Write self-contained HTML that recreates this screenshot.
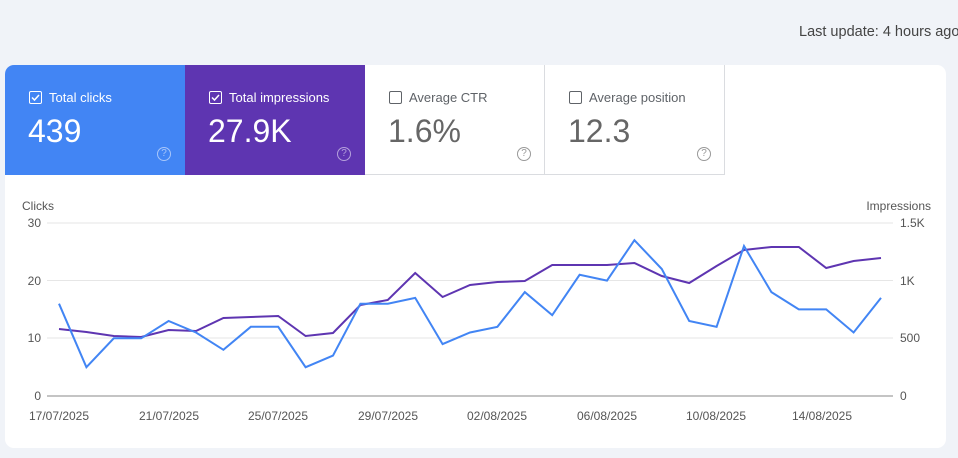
<!DOCTYPE html>
<html><head><meta charset="utf-8"><style>
body{margin:0;width:958px;height:458px;background:#f0f3f8;font-family:"Liberation Sans",sans-serif;position:relative;overflow:hidden}
.upd{position:absolute;left:799px;top:24px;font-size:14.5px;color:#444;white-space:nowrap}
.card{position:absolute;left:5px;top:65px;width:941px;height:383px;background:#fff;border-radius:9px;overflow:hidden}
.tab{position:absolute;top:0;height:110px;width:180px;box-sizing:border-box}
.lab{position:absolute;left:24px;top:25px;font-size:13px;white-space:nowrap}
.cb{display:inline-block;width:11px;height:11px;border:1.5px solid;border-radius:2px;vertical-align:-2px;margin-right:7px;position:relative}
.val{position:absolute;left:23px;top:48px;font-size:32px}
.q{position:absolute;left:152px;top:82px;width:12px;height:12px;border:1.5px solid;border-radius:50%;font-size:10px;text-align:center;line-height:12px}
</style></head><body>
<div class="upd">Last update: 4 hours ago</div>
<div class="card">
<div class="tab" style="left:0;background:#4285f4;color:#fff"><div class="lab"><span class="cb" style="border-color:#fff"><svg width="11" height="11" style="position:absolute;left:0;top:0"><path d="M2 5.5l2.5 2.5L9 3" stroke="#fff" stroke-width="1.5" fill="none"/></svg></span>Total clicks</div><div class="val">439</div><div class="q" style="border-color:#a8c6fa;color:#a8c6fa">?</div></div>
<div class="tab" style="left:180px;background:#5e35b1;color:#fff"><div class="lab"><span class="cb" style="border-color:#fff"><svg width="11" height="11" style="position:absolute;left:0;top:0"><path d="M2 5.5l2.5 2.5L9 3" stroke="#fff" stroke-width="1.5" fill="none"/></svg></span>Total impressions</div><div class="val">27.9K</div><div class="q" style="border-color:#b5a1dc;color:#b5a1dc">?</div></div>
<div class="tab" style="left:360px;border-bottom:1px solid #dadce0;border-right:1px solid #dadce0;color:#5f6368"><div class="lab" style="color:#5f6368"><span class="cb" style="border-color:#5f6368;border-width:1px"></span>Average CTR</div><div class="val" style="color:#666">1.6%</div><div class="q" style="border-color:#999;color:#999">?</div></div>
<div class="tab" style="left:540px;border-bottom:1px solid #dadce0;border-right:1px solid #dadce0;color:#5f6368"><div class="lab" style="color:#5f6368"><span class="cb" style="border-color:#5f6368;border-width:1px"></span>Average position</div><div class="val" style="color:#666">12.3</div><div class="q" style="border-color:#999;color:#999">?</div></div>
</div>
<svg width="958" height="458" style="position:absolute;left:0;top:0" font-family="Liberation Sans,sans-serif">
<g stroke="#e6e6e6" stroke-width="1"><line x1="47" y1="223" x2="893" y2="223"/><line x1="47" y1="280.5" x2="893" y2="280.5"/><line x1="47" y1="338" x2="893" y2="338"/></g>
<line x1="47" y1="396" x2="893" y2="396" stroke="#888" stroke-width="1"/>
<g font-size="12" fill="#555">
<text x="22" y="210">Clicks</text>
<text x="931" y="210" text-anchor="end">Impressions</text>
<g text-anchor="end"><text x="41" y="227">30</text><text x="41" y="285">20</text><text x="41" y="342">10</text><text x="41" y="400">0</text></g>
<text x="900" y="227">1.5K</text><text x="900" y="285">1K</text><text x="900" y="342">500</text><text x="900" y="400">0</text>
<g text-anchor="middle"><text x="59" y="420">17/07/2025</text><text x="169" y="420">21/07/2025</text><text x="278" y="420">25/07/2025</text><text x="388" y="420">29/07/2025</text><text x="497" y="420">02/08/2025</text><text x="607" y="420">06/08/2025</text><text x="716" y="420">10/08/2025</text><text x="822" y="420">14/08/2025</text></g>
</g>
<polyline fill="none" stroke="#5e35b1" stroke-width="2" points="59,329 86.4,332 113.8,336 141.2,337 168.6,330 196,331 223.4,318 250.8,317 278.2,316 305.6,336 333,333 360.4,305 387.8,300 415.2,273 442.6,297 470,285 497.4,282 524.8,281 552.2,265 579.6,265 607,265 634.4,263 661.8,276 689.2,283 716.6,266 744,250 771.4,247 798.8,247 826.2,268 853.6,261 881,258"/>
<polyline fill="none" stroke="#4285f4" stroke-width="2" points="59,303.7 86.4,367.2 113.8,338.3 141.2,338.3 168.6,321 196,332.5 223.4,349.8 250.8,326.8 278.2,326.8 305.6,367.2 333,355.6 360.4,303.7 387.8,303.7 415.2,297.9 442.6,344.1 470,332.5 497.4,326.8 524.8,292.1 552.2,315.2 579.6,274.8 607,280.6 634.4,240.2 661.8,269 689.2,321 716.6,326.8 744,246 771.4,292.1 798.8,309.4 826.2,309.4 853.6,332.5 881,297.9"/>
</svg>
</body></html>
